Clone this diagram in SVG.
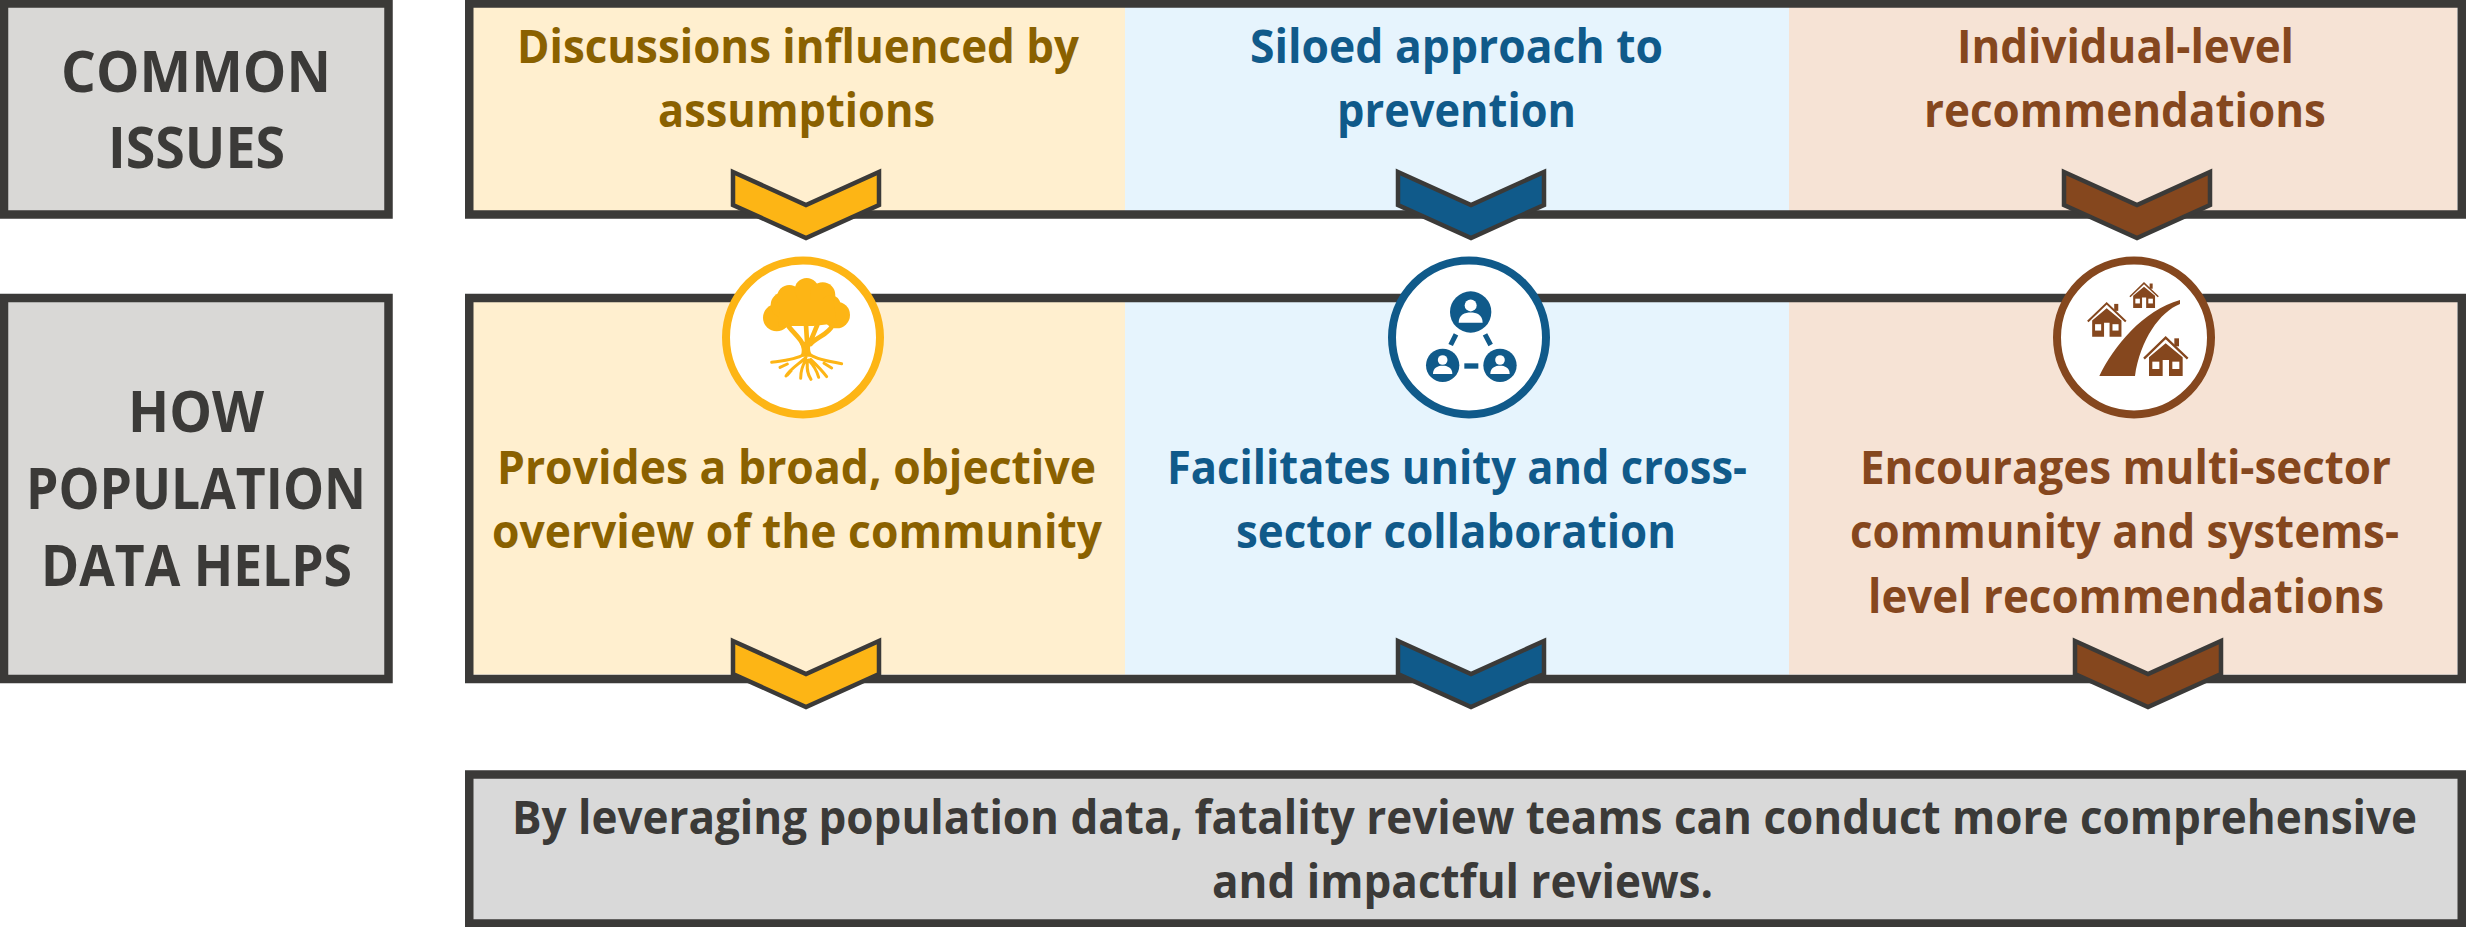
<svg xmlns="http://www.w3.org/2000/svg" xmlns:xlink="http://www.w3.org/1999/xlink" width="2466" height="927" viewBox="0 0 2466 927">
<style>
text{font-family:"Open Sans","Liberation Sans",sans-serif;font-weight:700;font-size:47px}
.h{font-size:58px;fill:#3b3a38}
.k{fill:#3b3a38}
.y{fill:#8a6100}.b{fill:#105a8a}.r{fill:#85471e}
.frame{fill:none;stroke:#3b3a38;stroke-width:8.5}
.grey{fill:#d9d8d6;stroke:#3b3a38;stroke-width:8.5}
.chev{stroke:#3b3a38;stroke-width:4.500;stroke-miterlimit:10}
.ring{fill:#fff;stroke-width:8}
</style>
<defs>
<polygon id="chevron" points="-73,-31 0,2 73,-31 73,2 0,35 -73,2"/>
<g id="house">
<path d="M-50 0V-56L0 -98L51 -56V0H10V-48H-9V0Z"/>
<rect x="26" y="-113" width="14" height="24"/>
<path d="M-65 -52L0 -115L66 -52" fill="none" stroke="#85471e" stroke-width="7"/>
<rect x="-40" y="-43" width="21" height="22" fill="#fff"/>
<rect x="20" y="-43" width="21" height="22" fill="#fff"/>
</g>
<g id="person">
<circle r="50"/>
<circle cy="-16" r="14.500" fill="#fff"/>
<path d="M-29 26C-29 6 -14 1 0 1C14 1 29 6 29 26Z" fill="#fff"/>
</g>
</defs>
<rect width="2466" height="927" fill="#fff"/>

<g id="common-issues">
<rect class="grey" x="4" y="3.500" width="384.500" height="211"/>
<text class="h" x="61" y="92" textLength="270" lengthAdjust="spacingAndGlyphs">COMMON</text>
<text class="h" x="108" y="168" textLength="177" lengthAdjust="spacingAndGlyphs">ISSUES</text>
</g>
<g id="population-helps">
<rect class="grey" x="4" y="298" width="384.500" height="381"/>
<text class="h" x="128" y="432" textLength="136" lengthAdjust="spacingAndGlyphs">HOW</text>
<text class="h" x="26" y="509" textLength="340" lengthAdjust="spacingAndGlyphs">POPULATION</text>
<text class="h" x="41" y="586" textLength="311" lengthAdjust="spacingAndGlyphs">DATA HELPS</text>
</g>

<g id="issues-row">
<rect x="473" y="7" width="652" height="204" fill="#ffefcf"/>
<rect x="1125" y="7" width="664" height="204" fill="#e6f4fd"/>
<rect x="1789" y="7" width="668" height="204" fill="#f6e3d5"/>
<rect class="frame" x="469.250" y="3.500" width="1992.500" height="211"/>
<g id="issue-assumptions" class="y">
<text x="517" y="63" textLength="562" lengthAdjust="spacingAndGlyphs">Discussions influenced by</text>
<text x="658" y="127" textLength="277" lengthAdjust="spacingAndGlyphs">assumptions</text>
</g>
<g id="issue-siloed" class="b">
<text x="1250" y="63" textLength="413" lengthAdjust="spacingAndGlyphs">Siloed approach to</text>
<text x="1337" y="127" textLength="239" lengthAdjust="spacingAndGlyphs">prevention</text>
</g>
<g id="issue-individual" class="r">
<text x="1957" y="63" textLength="337" lengthAdjust="spacingAndGlyphs">Individual-level</text>
<text x="1924" y="127" textLength="402" lengthAdjust="spacingAndGlyphs">recommendations</text>
</g>
</g>

<g id="helps-row">
<rect x="473" y="302" width="652" height="372.500" fill="#ffefcf"/>
<rect x="1125" y="302" width="664" height="372.500" fill="#e6f4fd"/>
<rect x="1789" y="302" width="668" height="372.500" fill="#f6e3d5"/>
<rect class="frame" x="469.250" y="298" width="1992.500" height="381"/>
<g id="help-overview" class="y">
<text x="497" y="484" textLength="599" lengthAdjust="spacingAndGlyphs">Provides a broad, objective</text>
<text x="492" y="548" textLength="610" lengthAdjust="spacingAndGlyphs">overview of the community</text>
</g>
<g id="help-unity" class="b">
<text x="1167" y="484" textLength="580" lengthAdjust="spacingAndGlyphs">Facilitates unity and cross-</text>
<text x="1236" y="548" textLength="440" lengthAdjust="spacingAndGlyphs">sector collaboration</text>
</g>
<g id="help-systems" class="r">
<text x="1860" y="484" textLength="531" lengthAdjust="spacingAndGlyphs">Encourages multi-sector</text>
<text x="1850" y="548" textLength="549" lengthAdjust="spacingAndGlyphs">community and systems-</text>
<text x="1868" y="613" textLength="516" lengthAdjust="spacingAndGlyphs">level recommendations</text>
</g>
</g>

<g id="conclusion">
<rect x="469.250" y="774.500" width="1992.500" height="149" fill="#d9d9d9" stroke="#3b3a38" stroke-width="8.500"/>
<text class="k" x="512" y="834" textLength="1905" lengthAdjust="spacingAndGlyphs">By leveraging population data, fatality review teams can conduct more comprehensive</text>
<text class="k" x="1212" y="898" textLength="501" lengthAdjust="spacingAndGlyphs">and impactful reviews.</text>
</g>

<g id="connectors" class="chev">
<use xlink:href="#chevron" href="#chevron" x="806" y="203" fill="#fdb515"/>
<use xlink:href="#chevron" href="#chevron" x="1471" y="203" fill="#105a8a"/>
<use xlink:href="#chevron" href="#chevron" x="2137" y="203" fill="#85471e"/>
<use xlink:href="#chevron" href="#chevron" x="806" y="672" fill="#fdb515"/>
<use xlink:href="#chevron" href="#chevron" x="1471" y="672" fill="#105a8a"/>
<use xlink:href="#chevron" href="#chevron" x="2148" y="672" fill="#85471e"/>
</g>

<g id="icon-tree">
<circle class="ring" cx="803" cy="337.500" r="77" stroke="#fdb515"/>
<g transform="translate(700 240) scale(.33333)" fill="#fdb515" stroke="none">
<circle cx="230" cy="233" r="41"/><circle cx="250" cy="195" r="38"/><circle cx="268" cy="172" r="37"/><circle cx="320" cy="150" r="36"/><circle cx="368" cy="165" r="38"/><circle cx="392" cy="195" r="30"/><circle cx="410" cy="225" r="40"/>
<path d="M240 180H400L410 250L340 258H265L235 260Z"/>
<path d="M302 350C308 330 305 318 298 305L335 305C328 320 328 335 340 350Z"/>
<g fill="none" stroke="#fdb515" stroke-linecap="round">
<path stroke-width="14" d="M315 335C310 300 285 285 265 258M322 320L318 255M328 310C338 290 345 270 352 255M332 312C350 290 385 285 398 255"/>
<path stroke-width="9" d="M215 367C250 362 290 358 308 345M425 371C390 365 350 358 332 345M318 352C300 370 272 385 258 408M318 360C308 375 302 395 302 415M322 362C322 380 318 395 333 418M325 360C340 375 350 390 356 412M332 358C350 375 365 390 380 410M240 382L262 372M395 384L372 370M275 390L262 405"/>
</g>
</g>
</g>

<g id="icon-network">
<circle class="ring" cx="1469" cy="337.500" r="77" stroke="#105a8a"/>
<g transform="translate(1370 240) scale(.33333)" fill="#105a8a">
<use xlink:href="#person" href="#person" transform="translate(302 216) scale(1.24)"/>
<use xlink:href="#person" href="#person" transform="translate(218 376)"/>
<use xlink:href="#person" href="#person" transform="translate(390 376)"/>
<path d="M258 283L242 315M345 283L362 315" stroke="#105a8a" stroke-width="15" fill="none"/>
<rect x="283" y="370" width="42" height="16"/>
</g>
</g>

<g id="icon-houses">
<circle class="ring" cx="2134" cy="337.500" r="77" stroke="#85471e"/>
<g transform="translate(2030 240) scale(.33333)" fill="#85471e">
<path d="M208 408C250 320 340 210 450 180L450 192C390 215 330 300 315 408Z"/>
<use xlink:href="#house" href="#house" transform="translate(407 408)"/>
<use xlink:href="#house" href="#house" transform="translate(230 290) scale(.87)"/>
<use xlink:href="#house" href="#house" transform="translate(342 204) scale(.65)"/>
</g>
</g>
</svg>
